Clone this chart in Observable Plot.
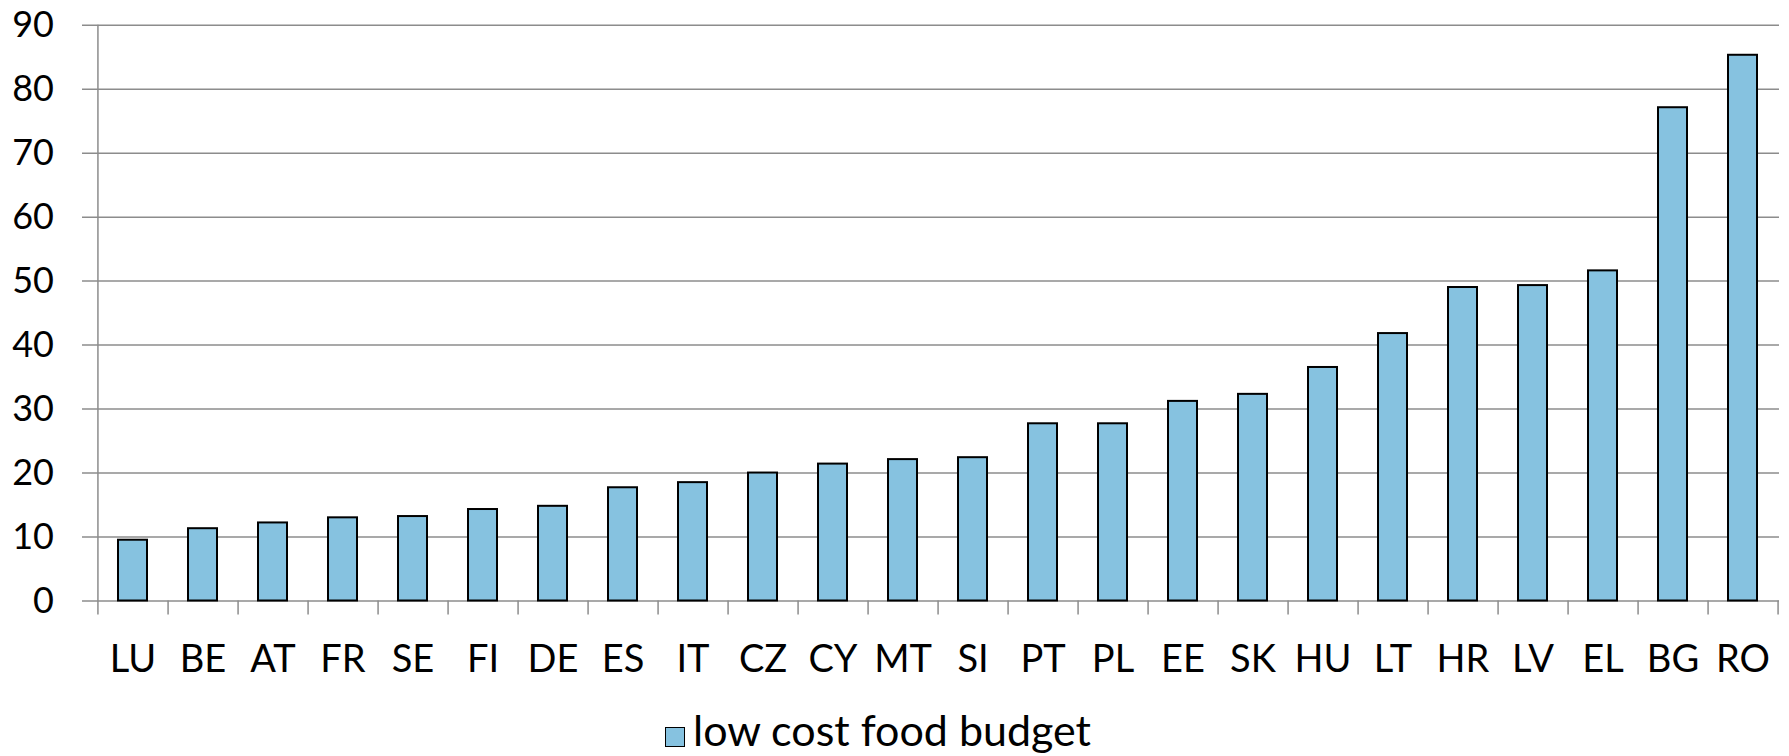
<!DOCTYPE html>
<html>
<head>
<meta charset="utf-8">
<script src="https://cdn.jsdelivr.net/npm/d3@7"></script>
<script src="https://cdn.jsdelivr.net/npm/@observablehq/plot@0.6"></script>
<style>
  html, body { margin: 0; padding: 0; background: #fff; }
  #wrap { position: relative; width: 1789px; height: 756px; overflow: hidden; font-family: Lato, "Open Sans", sans-serif; }
  #legend-sw { position: absolute; left: 665px; top: 727px; width: 18px; height: 18px; background: #86C2E0; border: 1.5px solid #000; }
  #legend-tx { position: absolute; left: 693px; top: 704px; font-size: 43px; line-height: 1.2; color: #000; white-space: nowrap; }
</style>
</head>
<body>
<div id="wrap">
  <div id="chart"></div>
  <div id="legend-sw"></div>
  <span id="legend-tx">low cost food budget</span>
</div>
<script>
const countries = ["LU","BE","AT","FR","SE","FI","DE","ES","IT","CZ","CY","MT","SI","PT","PL","EE","SK","HU","LT","HR","LV","EL","BG","RO"];
const values = [9.5, 11.3, 12.2, 13.0, 13.2, 14.3, 14.8, 17.7, 18.5, 20.0, 21.4, 22.1, 22.4, 27.7, 27.7, 31.2, 32.3, 36.5, 41.8, 49.0, 49.3, 51.6, 77.1, 85.3];
const yTicks = [0, 10, 20, 30, 40, 50, 60, 70, 80, 90];

const data = countries.map((c, i) => ({country: c, value: values[i]}));

const W = 1789, H = 700;
const mL = 95.5, mR = 10, mT = 24.7, mB = 99.5;
const step = (W - mL - mR) / countries.length;
const gridColor = "#8c8c8c";

const chart = Plot.plot({
  width: W,
  height: H,
  marginLeft: mL,
  marginRight: mR,
  marginTop: mT,
  marginBottom: mB,
  style: {fontFamily: "Lato, 'Open Sans', sans-serif", color: "#000", background: "#fff"},
  x: {domain: countries, paddingInner: 0.583, paddingOuter: 0.2915, label: null},
  y: {domain: [0, 90], ticks: yTicks, label: null},
  marks: [
    Plot.ruleY(yTicks, {stroke: gridColor, strokeWidth: 1.5, insetLeft: -13.5}),
    Plot.ruleX([countries[0]], {dx: -step / 2, stroke: gridColor, strokeWidth: 1.5, insetBottom: -14}),
    Plot.ruleX(countries, {x: d => d, y1: 0, y2: 0, dx: step / 2, stroke: gridColor, strokeWidth: 1.5, insetBottom: -14}),
    Plot.barY(data, {x: "country", y: "value", fill: "#86C2E0", stroke: "#000", strokeWidth: 2}),
    Plot.axisY({ticks: yTicks, tickSize: 0, tickPadding: 42, fontSize: 36, label: null}),
    Plot.axisX({tickSize: 0, tickPadding: 44, fontSize: 38, label: null})
  ]
});
document.getElementById("chart").appendChild(chart);
</script>
</body>
</html>
